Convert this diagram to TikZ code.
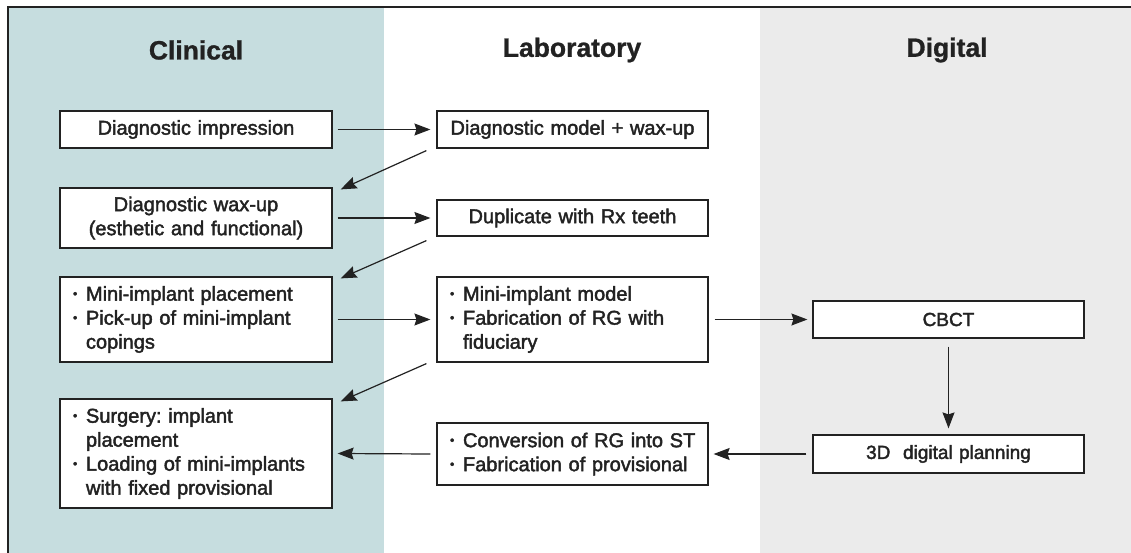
\documentclass[tikz,border=0pt]{standalone}
\usepackage{fontspec}
\setmainfont{Liberation Sans}
\newfontfamily\medfont[FakeBold=2]{Liberation Sans}
\newfontfamily\headfont[FakeBold=1]{Liberation Sans Bold}
\usetikzlibrary{arrows.meta,calc}
\newcommand\bul{\makebox[13pt][l]{\raisebox{0.14em}{\scalebox{0.62}{\textbullet}}}}
\newcommand\ind{\hspace*{13pt}}
\newcommand\li[1]{\mbox{#1}}
\definecolor{clin}{HTML}{C6DDDF}
\definecolor{digi}{HTML}{EBEBEB}
\definecolor{ink}{HTML}{222222}
\begin{document}
\frenchspacing
\begin{tikzpicture}[x=1pt,y=-1pt,
  box/.style={draw=ink,line width=1.2pt,fill=white,rectangle,inner ysep=0pt,
    minimum height=#1,text width=246pt,inner xsep=13pt,
    font=\medfont\fontsize{20}{24}\selectfont\frenchspacing,text=ink},
  cbox/.style={box=#1,align=center},
  lbox/.style={box=#1,align=left},
  head/.style={font=\headfont\fontsize{26.5}{30}\selectfont,text=ink},
  arr/.style={draw=ink,line width=1.2pt,-{Stealth[length=16pt,width=12pt,inset=2pt]}}]
\useasboundingbox (0,0) rectangle (1131,553);
\fill[clin] (8,7) rectangle (384,553);
\fill[white] (384,7) rectangle (760,553);
\fill[digi] (760,7) rectangle (1131,553);
\draw[ink,line width=1.4pt] (8,553) -- (8,7) -- (1131,7);

\node[head] (hc) at (196,50) {Clinical};
\node[head] (hl) at (572,50) {Laboratory};
\node[head] (hd) at (947,50) {Digital};

\node[cbox=37pt] (imp) at (196,129.5) {Diagnostic impression};
\node[cbox=37pt,text width=245pt] (model) at (572.5,129.5) {Diagnostic model + wax-up};
\node[cbox=60pt] (wax) at (196,218) {Diagnostic wax-up\\(esthetic and functional)};
\node[cbox=36pt,text width=245pt] (dup) at (572.5,218) {Duplicate with Rx teeth};
\node[lbox=85pt] (mip) at (196,319.5) {\li{\bul Mini-implant placement}\\\li{\bul Pick-up of mini-implant}\\\li{\ind copings}};
\node[lbox=85pt,text width=245pt] (mim) at (572.5,319.5) {\li{\bul Mini-implant model}\\\li{\bul Fabrication of RG with}\\\li{\ind fiduciary}};
\node[cbox=37pt,text width=245pt,font=\medfont\fontsize{19}{23}\selectfont] (cbct) at (948.5,319.5) {CBCT};
\node[lbox=109pt] (surg) at (196,453.5) {\li{\bul Surgery: implant}\\\li{\ind placement}\\\li{\bul Loading of mini-implants}\\\li{\ind with fixed provisional}};
\node[lbox=62pt,text width=245pt] (conv) at (572.5,454) {\li{\bul Conversion of RG into ST}\\\li{\bul Fabrication of provisional}};
\node[cbox=38pt,text width=245pt,font=\medfont\fontsize{19}{23}\selectfont] (plan) at (948.5,454) {3D\ \ digital planning};

\draw[arr] ($(imp.east)+(5,0)$) -- ($(model.west)+(-6,0)$);
\draw[arr] ($(model.south west)+(-10,2)$) -- ($(wax.north east)+(8,2)$);
\draw[arr] ($(wax.east)+(5,0)$) -- ($(dup.west)+(-6,0)$);
\draw[arr] ($(dup.south west)+(-10,4)$) -- ($(mip.north east)+(8,2)$);
\draw[arr] ($(mip.east)+(5,0)$) -- ($(mim.west)+(-6,0)$);
\draw[arr] ($(mim.south west)+(-10,1)$) -- ($(surg.north east)+(8,3)$);
\draw[arr] ($(mim.east)+(6,0)$) -- ($(cbct.west)+(-5,0)$);
\draw[arr] ($(cbct.south)+(0,8)$) -- ($(plan.north)+(0,-6)$);
\draw[arr] ($(plan.west)+(-6,0)$) -- ($(conv.east)+(5,0)$);
\draw[arr] ($(conv.west)+(-6,0)$) -- ($(surg.east)+(5,0)$);
\end{tikzpicture}
\end{document}
